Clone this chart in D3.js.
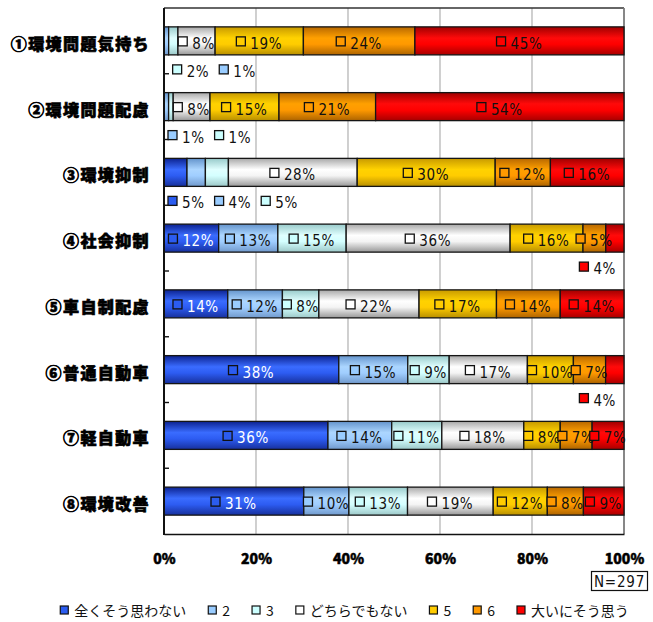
<!DOCTYPE html>
<html>
<head>
<meta charset="utf-8">
<script src="https://cdn.jsdelivr.net/npm/d3@7"></script>
<style>
  html, body { margin: 0; padding: 0; background: #fff; }
  svg { display: block; }
</style>
</head>
<body>
<svg id="chart" width="653" height="622"></svg>
<script>
// ---- data ----
const categories = [
  "①環境問題気持ち", "②環境問題配慮", "③環境抑制", "④社会抑制",
  "⑤車自制配慮", "⑥普通自動車", "⑦軽自動車", "⑧環境改善"
];
const seriesNames = ["全くそう思わない", "2", "3", "どちらでもない", "5", "6", "大いにそう思う"];

// percentages per answer, one entry per category (top to bottom)
const answer1 = [0, 0, 5, 12, 14, 38, 36, 31];
const answer2 = [1, 1, 4, 13, 12, 15, 14, 10];
const answer3 = [2, 1, 5, 15, 8, 9, 11, 13];
const answer4 = [8, 8, 28, 36, 22, 17, 18, 19];
const answer5 = [19, 15, 30, 16, 17, 10, 8, 12];
const answer6 = [24, 21, 12, 5, 14, 7, 7, 8];
const answer7 = [45, 54, 16, 4, 14, 4, 7, 9];
const seriesValues = [answer1, answer2, answer3, answer4, answer5, answer6, answer7];

const tickValues = [0, 0.2, 0.4, 0.6, 0.8, 1];
const sampleSize = "N=297";

// small segments whose labels sit under the bar, in the order they are listed
const belowLabels = [
  { row: 0, series: [2, 1] },
  { row: 1, series: [1, 2] },
  { row: 2, series: [0, 1, 2] },
  { row: 3, series: [6] },
  { row: 5, series: [6] }
];

// ---- styles ----
const baseColors = ["#2b5cf0", "#99ccff", "#ccffff", "#ffffff", "#ffcc00", "#ff9900", "#ff0000"];
const gradStops = [
  ["#0c2290", "#3a6cff", "#2d5cf2", "#17309c"],
  ["#6494cc", "#acd6ff", "#a0ceff", "#7099cc"],
  ["#98caca", "#e0ffff", "#d4ffff", "#9cc8c8"],
  ["#a8a8a8", "#ffffff", "#f4f4f4", "#979797"],
  ["#c89a00", "#ffd200", "#ffcc00", "#b88f00"],
  ["#b86800", "#ffa000", "#ff9900", "#ad6400"],
  ["#a00000", "#ff0a0a", "#ff0000", "#a80000"]
];
const labelFont = "'Liberation Sans Narrow', 'DejaVu Sans Condensed', 'Arial Narrow', sans-serif";
const heavyFont = "'Noto Sans CJK JP', 'Noto Sans', sans-serif";

// ---- layout ----
const svg = d3.select("#chart");
svg.append("rect").attr("width", 653).attr("height", 622).attr("fill", "#fff");

const plot = { left: 164, right: 624, top: 8, bottom: 534 };

const x = d3.scaleLinear().domain([0, 1]).range([plot.left, plot.right]);
const y = d3.scaleBand()
  .domain(d3.range(categories.length))
  .range([plot.top, plot.bottom])
  .paddingInner(0.574)
  .paddingOuter(0.287);

const rows = categories.map((c, i) => ({ category: c, values: seriesValues.map(s => s[i]) }));
const stack = d3.stack()
  .keys(d3.range(seriesNames.length))
  .value((d, k) => d.values[k])
  .offset(d3.stackOffsetExpand);
const layers = stack(rows);

// gradients (cylinder-like shading on each bar)
const defs = svg.append("defs");
gradStops.forEach((stops, i) => {
  const g = defs.append("linearGradient")
    .attr("id", "grad" + i).attr("x1", 0).attr("y1", 0).attr("x2", 0).attr("y2", 1);
  [0, 0.4, 0.62, 1].forEach((o, j) => {
    g.append("stop").attr("offset", o).attr("stop-color", stops[j]);
  });
});

// grid lines
svg.append("g").selectAll("line")
  .data(tickValues.filter(t => t > 0 && t < 1))
  .join("line")
  .attr("x1", d => x(d)).attr("x2", d => x(d))
  .attr("y1", plot.top).attr("y2", plot.bottom)
  .attr("stroke", "#c4c4c4").attr("stroke-width", 1.6);

// plot frame: top and right
svg.append("line")
  .attr("x1", plot.left).attr("x2", plot.right)
  .attr("y1", plot.top).attr("y2", plot.top)
  .attr("stroke", "#333").attr("stroke-width", 1.4);
svg.append("line")
  .attr("x1", x(1)).attr("x2", x(1))
  .attr("y1", plot.top).attr("y2", plot.bottom)
  .attr("stroke", "#7a7a7a").attr("stroke-width", 1.8);

// bars
const barG = svg.append("g");
layers.forEach((layer, si) => {
  barG.append("g").selectAll("rect")
    .data(layer.map((d, ri) => ({ x0: d[0], x1: d[1], row: ri })))
    .join("rect")
    .attr("x", d => x(d.x0))
    .attr("y", d => y(d.row))
    .attr("width", d => Math.max(0, x(d.x1) - x(d.x0)))
    .attr("height", y.bandwidth())
    .attr("fill", "url(#grad" + si + ")")
    .attr("stroke", "#151515")
    .attr("stroke-width", d => (d.x1 - d.x0) > 0 ? 1.3 : 0);
});

// category separators (short ticks on the inner side of the axis)
const boundaries = d3.range(1, categories.length).map(i => y(i) - y.step() * y.paddingInner() / 2);
svg.append("g").selectAll("line").data(boundaries).join("line")
  .attr("x1", plot.left).attr("x2", plot.left + 5)
  .attr("y1", d => d).attr("y2", d => d)
  .attr("stroke", "#111").attr("stroke-width", 1.4);
svg.append("line")
  .attr("x1", plot.left).attr("x2", plot.left)
  .attr("y1", plot.top).attr("y2", plot.bottom + 1)
  .attr("stroke", "#111").attr("stroke-width", 2);

const xAxis = d3.axisBottom(x).tickValues(tickValues).tickSize(0)
  .tickFormat(d => Math.round(d * 100) + "%");
const axB = svg.append("g").attr("transform", `translate(0,${plot.bottom})`).call(xAxis);
axB.select(".domain").attr("stroke", "#111").attr("stroke-width", 1.6);
axB.selectAll("text")
  .attr("y", 0).attr("dy", 0)
  .attr("transform", "translate(0,30)")
  .attr("font-family", heavyFont)
  .attr("font-weight", 900)
  .attr("font-size", 14)
  .attr("fill", "#000")
  .attr("stroke", "#000").attr("stroke-width", 0.5);

// category labels
svg.append("g").selectAll("text")
  .data(categories)
  .join("text")
  .attr("x", 150)
  .attr("y", (d, i) => y(i) + y.bandwidth() / 2 + 9)
  .attr("text-anchor", "end")
  .attr("font-family", heavyFont)
  .attr("font-weight", 900)
  .attr("font-size", 16)
  .attr("letter-spacing", 1.4)
  .attr("fill", "#000")
  .attr("stroke", "#000").attr("stroke-width", 0.7)
  .text(d => d);

// data labels: legend key square followed by the value
const labelG = svg.append("g");
function makeLabel(value, si, textColor) {
  const g = labelG.append("g");
  g.append("rect")
    .attr("x", 0).attr("y", -4).attr("width", 9).attr("height", 9)
    .attr("fill", baseColors[si]).attr("stroke", "#111").attr("stroke-width", 1.3);
  const t = g.append("text")
    .attr("x", 14).attr("y", 8)
    .attr("font-family", labelFont)
    .attr("font-size", 15)
    .attr("letter-spacing", 0.6)
    .attr("fill", textColor)
    .text(value + "%");
  const w = 14 + t.node().getComputedTextLength();
  return { g, w };
}

const belowSet = new Set();
belowLabels.forEach(b => b.series.forEach(s => belowSet.add(b.row + ":" + s)));

layers.forEach((layer, si) => {
  layer.forEach((d, ri) => {
    const v = seriesValues[si][ri];
    if (!v || belowSet.has(ri + ":" + si)) return;
    const lab = makeLabel(v, si, si === 0 ? "#fff" : "#111");
    const cx = (x(d[0]) + x(d[1])) / 2;
    const cy = y(ri) + y.bandwidth() / 2;
    lab.g.attr("transform", `translate(${cx - lab.w / 2},${cy})`);
  });
});

belowLabels.forEach(b => {
  const labs = b.series.map(si => makeLabel(seriesValues[si][b.row], si, "#111"));
  const gap = 10;
  const total = d3.sum(labs, l => l.w) + gap * (labs.length - 1);
  const firstLeft = x(layers[b.series[0]][b.row][0]);
  let cur = Math.min(firstLeft + 4, plot.right - 8 - total);
  const cy = y(b.row) + y.bandwidth() + 14;
  labs.forEach(l => {
    l.g.attr("transform", `translate(${cur},${cy})`);
    cur += l.w + gap;
  });
});

// sample size box
const nG = svg.append("g");
nG.append("rect")
  .attr("x", 591.5).attr("y", 571.5).attr("width", 56).attr("height", 19)
  .attr("fill", "#fff").attr("stroke", "#111").attr("stroke-width", 1.2);
nG.append("text")
  .attr("x", 619.5).attr("y", 586.5)
  .attr("text-anchor", "middle")
  .attr("font-family", labelFont)
  .attr("font-size", 15)
  .attr("letter-spacing", 0.8)
  .attr("fill", "#111")
  .text(sampleSize);

// legend
const legG = svg.append("g");
const items = seriesNames.map((name, i) => {
  const g = legG.append("g");
  g.append("rect")
    .attr("x", 0).attr("y", -4).attr("width", 8).attr("height", 8)
    .attr("fill", baseColors[i]).attr("stroke", "#111").attr("stroke-width", 1.2);
  const t = g.append("text")
    .attr("x", 14).attr("y", 5.5)
    .attr("font-family", heavyFont)
    .attr("font-size", 14)
    .attr("fill", "#111")
    .text(name);
  return { g, w: 14 + t.node().getComputedTextLength() };
});
const legGap = 22;
const legTotal = d3.sum(items, d => d.w) + legGap * (items.length - 1);
let lx = 344.5 - legTotal / 2;
items.forEach(it => {
  it.g.attr("transform", `translate(${lx},610)`);
  lx += it.w + legGap;
});
</script>
</body>
</html>
